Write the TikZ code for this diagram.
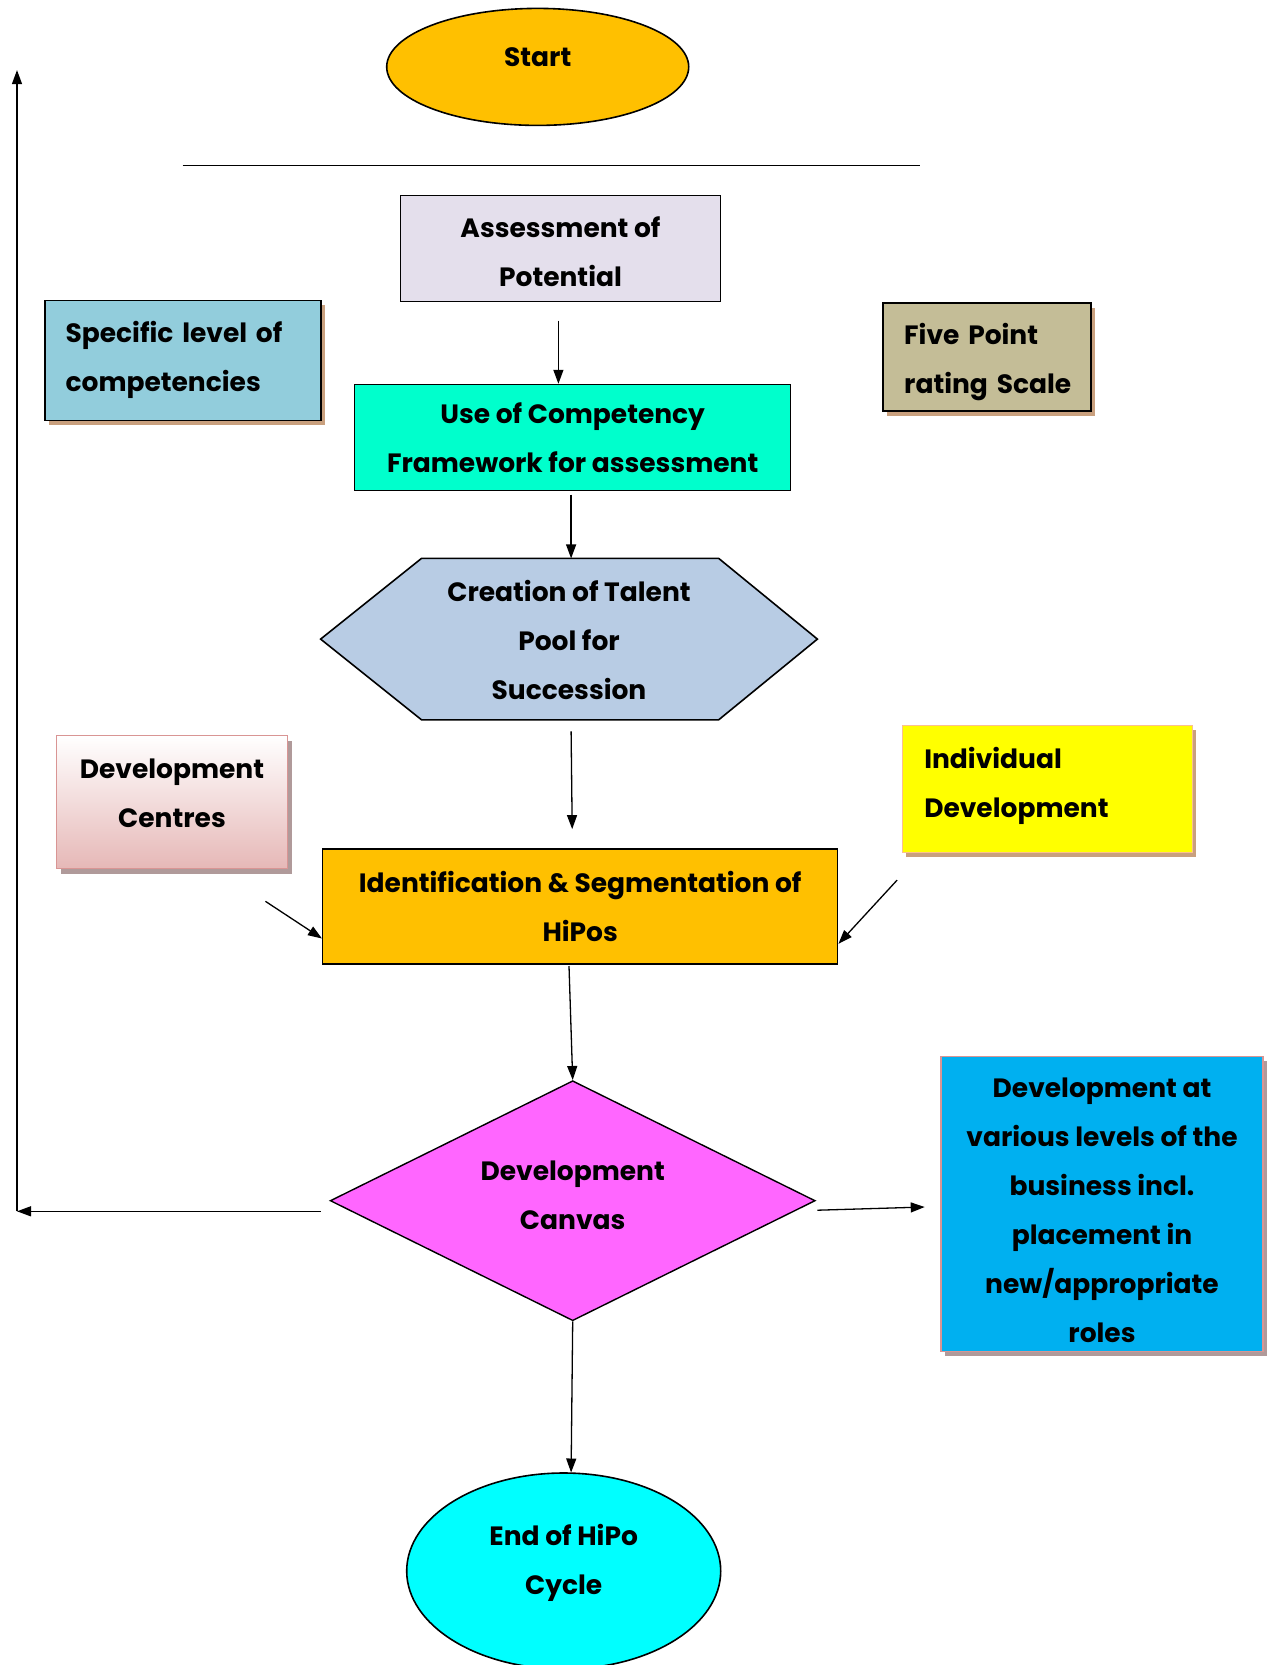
\documentclass[tikz,border=0pt]{standalone}
\usepackage{fontspec}
\setmainfont{Poppins}
\usetikzlibrary{arrows.meta,shapes.geometric,shadows,calc}
\definecolor{cStart}{HTML}{FFC000}
\definecolor{cAssess}{HTML}{E4DFEC}
\definecolor{cSpec}{HTML}{92CDDC}
\definecolor{cFive}{HTML}{C4BD97}
\definecolor{cUse}{HTML}{00FFCC}
\definecolor{cPool}{HTML}{B8CCE4}
\definecolor{cDCb}{HTML}{E6B8B7}
\definecolor{cDCline}{HTML}{D99594}
\definecolor{cInd}{HTML}{FFFF00}
\definecolor{cIndline}{HTML}{FAC090}
\definecolor{cCanvas}{HTML}{FF66FF}
\definecolor{cVar}{HTML}{00B0F0}
\definecolor{cEnd}{HTML}{00FFFF}
\definecolor{cShBrown}{HTML}{C9A07E}
\definecolor{cShGray}{HTML}{B09A9A}
\begin{document}
\begin{tikzpicture}[x=1pt,y=-1pt,
  txt/.style={font=\fontsize{26.5}{49}\selectfont\bfseries},
  box/.style={txt,draw=black,line width=1.5pt,rectangle,align=center,inner sep=0pt},
  lbox/.style={txt,draw=black,line width=1.8pt,rectangle,align=left,inner xsep=21pt,inner ysep=0pt},
  shbrown/.style={drop shadow={shadow xshift=4pt,shadow yshift=-5pt,fill=cShBrown,opacity=1}},
  shgray/.style={drop shadow={shadow xshift=4pt,shadow yshift=-5pt,fill=cShGray,opacity=1}},
  arr/.style={line width=1.3pt,-{Triangle[length=14pt,width=10pt]}},
  ln/.style={line width=1.4pt}]
\useasboundingbox (0,0) rectangle (1275,1665);

% Start
\node[ellipse,draw=black,line width=1.6pt,fill=cStart,minimum width=302pt,minimum height=117pt,
  label={[txt,yshift=10pt]center:Start}] (start) at (537.7,66.9) {};
\draw[ln] (182.6,165.6) coordinate (hlA) -- (920.4,165.6) coordinate (hlB);

% Assessment
\node[box,fill=cAssess,minimum width=320pt,minimum height=106pt] (assess) at (560.5,248.4)
  {\rule{0pt}{27pt}Assessment of\\Potential};
% Specific level
\node[lbox,fill=cSpec,shbrown,text width=234pt,minimum height=120pt] (spec) at (182.6,360.4)
  {Specific level of\\competencies};
% Five point
\node[lbox,fill=cFive,shbrown,text width=166pt,minimum height=108pt] (five) at (987.2,356.7)
  {\rule{0pt}{31pt}\mbox{Five Point}\\\mbox{rating Scale}};
% Use of competency
\node[box,fill=cUse,line width=1.2pt,minimum width=436pt,minimum height=106pt] (useof) at (572.7,437.4)
  {Use of Competency\\Framework for assessment};

% Hexagon
\draw[line width=1.6pt,fill=cPool] (320.6,639.1) coordinate (hexW) -- (421.5,558.4) -- (718.7,558.4)
  -- (817.4,639.1) coordinate (hexE) -- (718.7,719.8) -- (421.5,719.8) -- cycle;
\node[txt,align=center] (pool) at (569,640) {Creation of Talent\\Pool for\\Succession};

% Development centres
\node[lbox,align=center,draw=cDCline,line width=1.5pt,top color=white,bottom color=cDCb,shgray,
  inner xsep=0pt,minimum width=231pt,minimum height=133pt] (dc) at (172,802)
  {Development\\Centres\rule[-18pt]{0pt}{0pt}};
% Individual development
\node[lbox,fill=cInd,draw=cIndline,line width=1.5pt,shbrown,inner xsep=22pt,text width=246pt,minimum height=127pt]
  (ind) at (1047.3,788.8) {Individual\\Development\rule[-12pt]{0pt}{0pt}};
% Identification
\node[box,fill=cStart,minimum width=515pt,minimum height=115pt] (ident) at (580.2,906.6)
  {Identification \& Segmentation of\\HiPos};

% Diamond
\node[diamond,draw=black,line width=1.4pt,fill=cCanvas,minimum width=485pt,minimum height=240pt,
  inner sep=0pt,label={[txt,align=center,yshift=5pt]center:Development\\Canvas}] (canvas) at (572.7,1200.7) {};

% Development at various
\node[box,fill=cVar,draw=cDCline,line width=1.5pt,shgray,minimum width=322pt,minimum height=295pt]
  (var) at (1102,1203.9) {\rule{0pt}{33pt}Development at\\various levels of the\\business incl.\\placement in\\new/appropriate\\roles};

% End
\node[ellipse,draw=black,line width=1.6pt,fill=cEnd,minimum width=314pt,minimum height=196pt,
  label={[txt,align=center,yshift=8pt]center:End of HiPo\\Cycle}] (endc) at (563.7,1571) {};

% connectors
\coordinate (a1s) at (558.4,320.6);
\draw[arr] (a1s) -- (a1s |- useof.north);
\coordinate (a2s) at (571.1,494.7);
\draw[arr] (a2s) -- (571.1,558.4) coordinate (hexN);
\coordinate (a3s) at (571.1,731.4);
\coordinate (a3e) at (572.2,829.1);
\draw[arr] (a3s) -- (a3e);
\coordinate (dcA) at (265.4,901.3);
\draw[arr] (dcA) -- (ident.west |- 0,938.5);
\coordinate (indA) at (897.1,880.1);
\draw[arr] (indA) -- (ident.east |- 0,943.8);
\coordinate (a4s) at (569,966);
\draw[arr] (a4s) -- (canvas.north);
\draw[arr] (canvas.south) -- (571.1,1472.5);
\coordinate (cR) at (817.4,1210.2);
\draw[arr] (cR) -- (924.7,1207.0);
\coordinate (cL) at (320.6,1211.3);
\coordinate (corner) at (17,1211.3);
\draw[arr] (cL) -- (corner);
\draw[arr] (corner) -- (17,70.1) coordinate (topend);
\end{tikzpicture}
\end{document}
